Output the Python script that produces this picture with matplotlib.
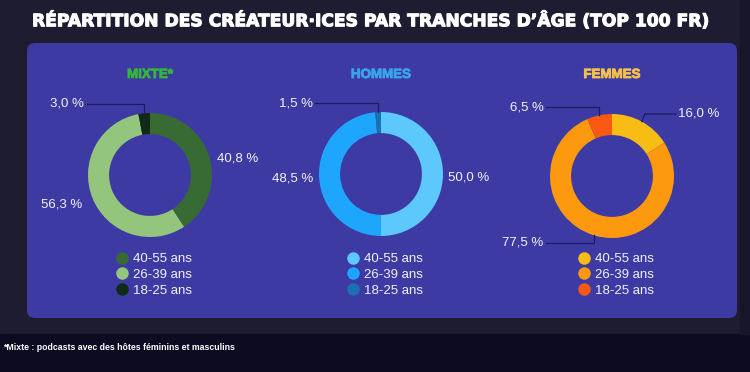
import matplotlib
matplotlib.use("Agg")
import matplotlib.pyplot as plt
import numpy as np
from matplotlib.patches import FancyBboxPatch, Rectangle
from matplotlib.lines import Line2D

# ---------------- data ----------------
title = "RÉPARTITION DES CRÉATEUR·ICES PAR TRANCHES D’ÂGE (TOP 100 FR)"
footnote = "*Mixte : podcasts avec des hôtes féminins et masculins"
age_groups = ["40-55 ans", "26-39 ans", "18-25 ans"]
group_titles = ["MIXTE*", "HOMMES", "FEMMES"]
mixte = [40.8, 56.3, 3.0]
hommes = [50.0, 48.5, 1.5]
femmes = [16.0, 77.5, 6.5]

# ---------------- style ----------------
W, H = 750, 372
BG = "#1e1c30"
BAND = "#0d0b22"
PANEL = "#3e3aa4"
LEADER = "#1c1b5e"
TXT = "#f2f2f8"
title_colors = ["#35b53b", "#3aa2ea", "#f5c14a"]
palettes = [
    ["#386b33", "#93c57d", "#0f2a17"],
    ["#5cc8fb", "#1ea6fc", "#1b70b2"],
    ["#f9bc15", "#fd990f", "#fb5814"],
]
centers = [(150, 175), (381, 174), (612, 176)]
R_PX = 62
# label placement (donut units, y up): (dx, dy, ha, leader elbow)
label_layout = [
    [(1.08, 0.27, "left", None), (-1.10, -0.48, "right", None), (-1.06, 1.15, "right", "v")],
    [(1.08, -0.05, "left", None), (-1.10, -0.08, "right", None), (-1.10, 1.14, "right", "v")],
    [(1.07, 1.00, "left", 0.53), (-1.11, -1.08, "right", "v"), (-1.10, 1.11, "right", "v")],
]

plt.rcParams["font.family"] = ["Liberation Sans", "DejaVu Sans"]

fig = plt.figure(figsize=(W / 100, H / 100), dpi=100)
fig.patch.set_facecolor(BG)

bg = fig.add_axes([0, 0, 1, 1])
bg.set_xlim(0, W)
bg.set_ylim(H, 0)
bg.axis("off")
bg.add_patch(Rectangle((0, 334), W, H - 334, color=BAND, zorder=0))
bg.add_patch(Rectangle((740, 0), 10, 334, color="#17152a", zorder=0))
bg.add_patch(FancyBboxPatch((27, 43), 710, 275, boxstyle="round,pad=0,rounding_size=8",
                            facecolor=PANEL, edgecolor="none", zorder=1))

t = bg.text(32, 21, title, color="white", fontsize=15, fontweight="bold",
            family=["Liberation Sans Narrow", "DejaVu Sans"], va="center", ha="left", zorder=3)
t.set_path_effects([])
renderer = fig.canvas.get_renderer()
target = 676
for _ in range(3):
    wpx = t.get_window_extent(renderer).width
    t.set_fontsize(t.get_fontsize() * target / wpx)
import matplotlib.patheffects as pe
t.set_path_effects([pe.withStroke(linewidth=0.8, foreground="white")])

bg.text(3, 348, footnote, color="white", fontsize=6.3, fontweight="bold",
        va="center", ha="left", zorder=3)

series = [mixte, hommes, femmes]
HALF = 95
lim = HALF / R_PX
for i, (vals, (cx, cy)) in enumerate(zip(series, centers)):
    ax = fig.add_axes([(cx - HALF) / W, (H - cy - HALF) / H, 2 * HALF / W, 2 * HALF / H])
    ax.set_facecolor("none")
    wedges, _ = ax.pie(vals, colors=palettes[i], startangle=90, counterclock=False,
                       radius=1.0, wedgeprops=dict(width=0.34, edgecolor="none"))
    ax.set_xlim(-lim, lim)
    ax.set_ylim(-lim, lim)
    ax.set_aspect("equal")
    ax.axis("off")
    ax.text(0, (cy - 75) / R_PX, group_titles[i], color=title_colors[i], fontsize=9.6,
            fontweight="bold", ha="center", va="center",
            path_effects=[pe.withStroke(linewidth=0.6, foreground=title_colors[i])])
    for j, (w, v) in enumerate(zip(wedges, vals)):
        dx, dy, ha, leader = label_layout[i][j]
        lbl = f"{v:.1f} %".replace(".", ",")
        ax.text(dx, dy, lbl, color=TXT, fontsize=9.5, ha=ha, va="center")
        if leader is not None:
            mid = np.deg2rad((w.theta1 + w.theta2) / 2)
            x0, y0 = np.cos(mid), np.sin(mid)
            xe = x0 if leader == "v" else leader
            xt = dx + (0.04 if ha == "right" else -0.04)
            ax.add_line(Line2D([x0, xe, xt], [y0, dy, dy], color=LEADER, lw=0.9))
    handles = [Line2D([], [], marker="o", linestyle="none", markersize=9,
                      markerfacecolor=c, markeredgecolor="none") for c in palettes[i]]
    ax.legend(handles, age_groups, loc="upper left",
              bbox_to_anchor=((-0.55 + lim) / (2 * lim), (lim - (253 - cy) / R_PX) / (2 * lim)),
              frameon=False, fontsize=9.5, labelcolor=TXT, handletextpad=0.3,
              labelspacing=0.26, borderpad=0, handlelength=1.0, borderaxespad=0)

fig.savefig("out.png", dpi=100, facecolor=BG)
